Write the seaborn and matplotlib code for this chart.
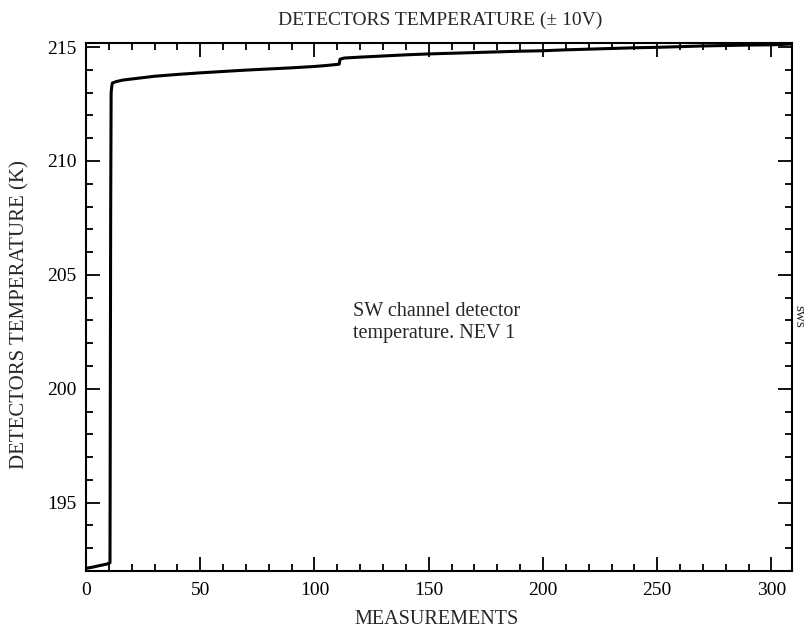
import matplotlib
matplotlib.use("Agg")
import matplotlib.pyplot as plt
import seaborn as sns
import pandas as pd
from matplotlib.ticker import MultipleLocator

# Data
measurements = [0, 3, 6, 9, 10.5, 10.6, 10.8, 11.0, 11.2, 11.5, 13, 16, 20, 25, 30, 40, 50, 60, 70,
                80, 90, 100, 105, 110.8, 111.2, 113, 120, 130, 140, 150, 160, 170, 180,
                190, 200, 210, 220, 230, 240, 250, 260, 270, 280, 290, 300, 305, 310]
temperature = [192.12, 192.17, 192.24, 192.30, 192.36, 197.4, 207.8, 213.0, 213.2, 213.42, 213.48,
               213.55, 213.60, 213.66, 213.72, 213.80, 213.87, 213.93, 213.99, 214.04, 214.09,
               214.15, 214.19, 214.25, 214.47, 214.52, 214.56, 214.61, 214.66, 214.70, 214.73,
               214.76, 214.79, 214.82, 214.84, 214.88, 214.91, 214.94, 214.97, 214.99, 215.02,
               215.05, 215.07, 215.09, 215.10, 215.12, 215.14]

title_text = "DETECTORS TEMPERATURE (± 10V)"
x_label = "MEASUREMENTS"
y_label = "DETECTORS TEMPERATURE (K)"
note_text = "SW channel detector\ntemperature. NEV 1"
side_text = "sws"

df = pd.DataFrame({"x": measurements, "y": temperature})

sns.set_theme(style="ticks")
plt.rcParams["font.family"] = ["Liberation Serif", "DejaVu Serif"]

fig = plt.figure(figsize=(8.06, 6.28), dpi=100)
ax = fig.add_axes([86/806, 1-571/628, (792-86)/806, (571-43)/628])

sns.lineplot(data=df, x="x", y="y", ax=ax, color="black", linewidth=2.2,
             sort=False, estimator=None)

ax.set_xlim(0, 309)
ax.set_ylim(192.0, 215.18)
ax.xaxis.set_major_locator(MultipleLocator(50))
ax.xaxis.set_minor_locator(MultipleLocator(10))
ax.yaxis.set_major_locator(MultipleLocator(5))
ax.yaxis.set_minor_locator(MultipleLocator(1))
ax.tick_params(which="both", direction="in", top=True, right=True, colors="black",
               labelsize=14)
ax.tick_params(which="major", length=10, width=1.3)
ax.tick_params(which="minor", length=5, width=1.3)
ax.tick_params(axis="x", pad=8)
ax.tick_params(axis="y", pad=7)
for s in ax.spines.values():
    s.set_linewidth(1.5)
    s.set_color("black")

ax.set_xlabel("")
ax.set_ylabel("")
fig.text(437/806, 1-620/628, x_label, ha="center", va="center", fontsize=14.5)
fig.text(20/806, 1-315/628, y_label, ha="center", va="center", rotation=90, fontsize=15)
fig.text(440/806, 1-20/628, title_text, ha="center", va="center", fontsize=14)
ax.text(117, 202.9, note_text, fontsize=14.5, ha="left", va="center", linespacing=1.2)
fig.text(799/806, 1-316/628, side_text, rotation=270, fontsize=11, ha="center", va="center")

fig.savefig("out.png", dpi=100)
